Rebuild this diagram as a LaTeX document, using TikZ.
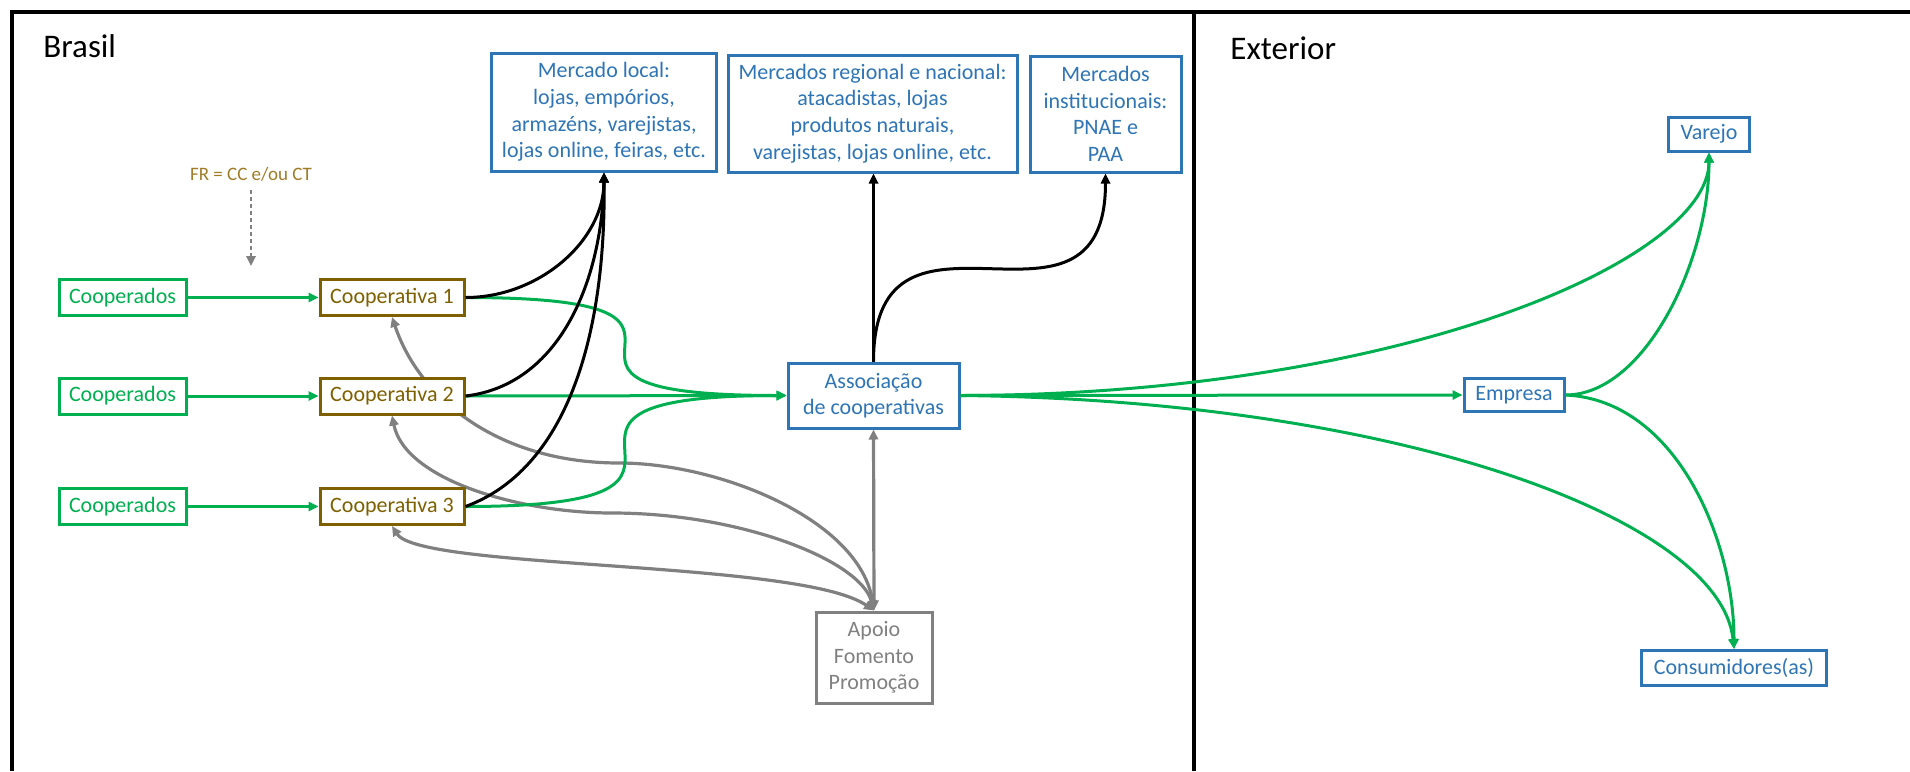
\documentclass[tikz,border=0pt]{standalone}
\usepackage{fontspec}
\setmainfont{Carlito}
\usetikzlibrary{arrows.meta}
\definecolor{gr}{HTML}{00B050}
\definecolor{br}{HTML}{7F6000}
\definecolor{frc}{HTML}{A07B25}
\definecolor{bl}{HTML}{2E75B6}
\definecolor{gy}{HTML}{808080}
\pgfdeclarelayer{bg}
\pgfsetlayers{bg,main}
\tikzset{
  box/.style={draw, line width=1.5pt, fill=white, inner sep=0pt, align=center,
    font=\fontsize{11}{13.3}\selectfont},
  gbox/.style={box, draw=gr, text=gr},
  obox/.style={box, draw=br, text=br},
  bbox/.style={box, draw=bl, text=bl},
  ybox/.style={box, draw=gy, text=gy},
  tip/.tip={Triangle[length=5pt,width=4.6pt]},
  garr/.style={draw=gr, line width=1.5pt, -tip},
  karr/.style={draw=black, line width=1.5pt, -tip},
  yarr/.style={draw=gy, line width=1.6pt, tip-tip},
  title/.style={anchor=west, inner sep=0pt, font=\fontsize{16.5}{20}\selectfont}
}
\begin{document}
\begin{tikzpicture}[x=0.5pt,y=-0.5pt]
\useasboundingbox (0,0) rectangle (1910,771);
% frame
\draw[line width=2pt] (1910,12) -- (12,12) -- (12,771);
\draw[line width=2pt] (1194,12) -- (1194,771);
\node[title] (brasil) at (43,46) {Brasil};
\node[title] (exterior) at (1230,48) {Exterior};

% nodes
\node[gbox, minimum width=63.5pt, minimum height=18pt] (cd1) at (122.5,297.5) {Cooperados};
\node[gbox, minimum width=63.5pt, minimum height=18pt] (cd2) at (122.5,396) {Cooperados};
\node[gbox, minimum width=63.5pt, minimum height=18pt] (cd3) at (122.5,506.5) {Cooperados};
\node[obox, minimum width=72pt, minimum height=18pt] (c1) at (392,297.5) {Cooperativa 1};
\node[obox, minimum width=72pt, minimum height=18pt] (c2) at (392,396) {Cooperativa 2};
\node[obox, minimum width=72pt, minimum height=18pt] (c3) at (392,506.5) {Cooperativa 3};
\node[bbox, minimum width=85.5pt, minimum height=32.5pt] (assoc) at (873.5,395.5) {Associação\\de cooperativas};
\node[ybox, minimum width=58pt, minimum height=45.5pt] (apoio) at (874,657.5) {Apoio\\Fomento\\Promoção};
\node[bbox, minimum width=112.5pt, minimum height=59pt] (mloc) at (604,112) {Mercado local:\\lojas, empórios,\\armazéns, varejistas,\\lojas online, feiras, etc.};
\node[bbox, minimum width=144.5pt, minimum height=58.5pt] (mreg) at (872.5,113.5) {Mercados regional e nacional:\\atacadistas, lojas\\produtos naturais,\\varejistas, lojas online, etc.};
\node[bbox, minimum width=75.5pt, minimum height=58pt] (minst) at (1105.5,114) {Mercados\\institucionais:\\PNAE e\\PAA};
\node[bbox, minimum width=50pt, minimum height=16.5pt] (emp) at (1514,395) {Empresa};
\node[bbox, minimum width=40.5pt, minimum height=17pt] (var) at (1709,134) {Varejo};
\node[bbox, minimum width=92.5pt, minimum height=17.5pt] (cons) at (1734,668) {Consumidores(as)};

\node[text=frc, inner sep=0pt, font=\fontsize{9.5}{11}\selectfont] (fr) at (251,174) {FR = CC e/ou CT};
\coordinate (frend) at (251,266);
\draw[draw=gy, line width=1.4pt, dash pattern=on 2pt off 1.5pt, -{Triangle[length=5pt,width=4.6pt]}] (251,190) -- (frend);

% gray connectors (behind boxes)
\begin{pgfonlayer}{bg}
\draw[yarr] (c1.south) .. controls (420,400) and (500,463) .. (619,463)
  .. controls (720,463) and (860,520) .. (apoio.north);
\draw[yarr] (c2.south) .. controls (405,480) and (520,513) .. (612,513)
  .. controls (740,513) and (860,560) .. (apoio.north);
\draw[yarr] (c3.south) .. controls (420,570) and (800,560) .. (apoio.north);
\draw[yarr] (apoio.north) -- (assoc.south);
\end{pgfonlayer}

% green
\draw[garr] (cd1.east) -- (c1.west);
\draw[garr] (cd2.east) -- (c2.west);
\draw[garr] (cd3.east) -- (c3.west);
\draw[garr] (c1.east) .. controls (788,297.5) and (464,395.5) .. (assoc.west);
\draw[garr] (c2.east) -- (assoc.west);
\draw[garr] (c3.east) .. controls (788,506.5) and (464,395.5) .. (assoc.west);
\draw[garr] (assoc.east) -- (emp.west);
\draw[garr] (assoc.east) .. controls (1400,395) and (1709,260) .. (var.south);
\draw[garr] (assoc.east) .. controls (1400,400) and (1721,520) .. (cons.north);
\draw[garr] (emp.east) .. controls (1645,395) and (1709,260) .. (var.south);
\draw[garr] (emp.east) .. controls (1676,400) and (1734,540) .. (cons.north);

% black
\draw[karr] (c1.east) .. controls (540,297.5) and (604,240) .. (mloc.south);
\draw[karr] (c2.east) .. controls (560,385) and (602,280) .. (mloc.south);
\draw[karr] (c3.east) .. controls (565,470) and (606,340) .. (mloc.south);
\draw[karr] (assoc.north) -- (assoc.north |- mreg.south);
\draw[karr] (assoc.north) .. controls (873.5,172) and (1105.5,363) .. (minst.south);
\end{tikzpicture}
\end{document}
